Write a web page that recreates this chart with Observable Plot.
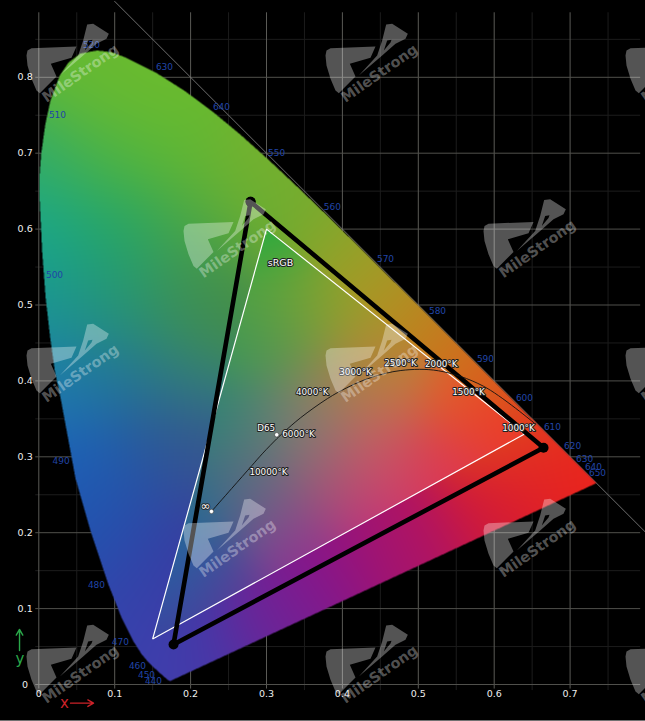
<!DOCTYPE html>
<html>
<head>
<meta charset="utf-8">
<style>html,body{margin:0;padding:0;background:#000;overflow:hidden}svg{display:block}</style>
<script src="https://cdn.jsdelivr.net/npm/d3@7"></script>
<script src="https://cdn.jsdelivr.net/npm/@observablehq/plot@0.6"></script>
</head>
<body>
<div id="chart"></div>
<script>
// Spectral locus outline (chromaticity x, y)
const locusX = [.1741,.1733,.1714,.1689,.1644,.1566,.1440,.1355,.1241,.1096,.0913,.0687,.0484,.0286,.0212,.0150,.0090,.0045,.0012,.0010,.0032,.0088,.0154,.0277,.0391,.0550,.0769,.0960,.1142,.1547,.1929,.2296,.2658,.3016,.3373,.3731,.4087,.4441,.4788,.5125,.5448,.5752,.6029,.6270,.6482,.6658,.6801,.6915,.7006,.7079,.7140,.7190,.7230,.7260,.7300,.7347];
const locusY = [.0050,.0048,.0051,.0069,.0109,.0177,.0297,.0399,.0578,.0868,.1327,.2007,.2714,.3781,.4127,.4572,.5100,.5700,.6377,.6700,.6996,.7391,.7694,.8024,.8195,.8314,.8353,.8330,.8262,.8059,.7816,.7543,.7243,.6923,.6589,.6245,.5896,.5547,.5202,.4866,.4544,.4242,.3965,.3725,.3514,.3340,.3197,.3083,.2993,.2920,.2859,.2809,.2770,.2740,.2700,.2653];

// Wavelength labels as printed
const waveText = ["520","630","640","510","550","560","570","580","590","600","610","620","630","640","650","500","490","480","470","460","450","440"];
const waveX = [.0694,.1656,.2407,.0246,.3132,.3869,.4568,.5253,.5885,.6399,.6768,.7032,.7190,.7308,.7361,.0207,.0294,.0760,.1076,.1300,.1419,.1511];
const waveY = [.8419,.8129,.7609,.7497,.6996,.6284,.5599,.4914,.4282,.3768,.3386,.3136,.2970,.2859,.2780,.5389,.2938,.1311,.0553,.0237,.0119,.0040];

// Gamuts
const srgbX = [.64,.30,.15,.64];
const srgbY = [.33,.60,.06,.33];
const panelX = [.279,.665,.1775,.279];
const panelY = [.636,.312,.0527,.636];

// Black body curve
const planckX = [.2275,.2541,.2807,.2952,.3135,.3221,.3451,.3805,.4053,.4369,.4770,.5267,.5857,.6528];
const planckY = [.2280,.2582,.2884,.3048,.3237,.3318,.3516,.3768,.3907,.4041,.4137,.4133,.3931,.3444];
const whiteX = [.2275,.3135];
const whiteY = [.2280,.3290];
const curveText = ["∞","D65","10000°K","6000°K","4000°K","3000°K","2500°K","2000°K","1500°K","1000°K","sRGB"];
const curveLabelX = [.2197,.2996,.3026,.3422,.3602,.4173,.4766,.5302,.5662,.6320,.3184];
const curveLabelY = [.2350,.3373,.2800,.3301,.3847,.4111,.4229,.4216,.3850,.3377,.5560];
const curveLabelSize = [12,8.8,8.8,8.8,8.8,8.8,8.8,8.8,8.8,8.8,9.5];

// Ticks
const xTicks = [0,.1,.2,.3,.4,.5,.6,.7];
const yTicks = [0,.1,.2,.3,.4,.5,.6,.7,.8];
const xMinor = [.05,.15,.25,.35,.45,.55,.65,.75];
const yMinor = [.05,.15,.25,.35,.45,.55,.65,.75,.85];

// Colours read outside the white triangle: x, y, r, g, b
const outerColour = [
  [.05,.80,100,185,50],[.10,.80,107,187,48],[.16,.79,108,187,45],
  [.01,.70,50,172,105],[.10,.70,80,180,65],[.20,.70,98,185,50],[.29,.68,125,178,45],
  [.003,.60,25,168,140],[.10,.60,35,165,105],[.20,.60,70,165,75],[.30,.63,100,175,50],[.36,.61,125,170,45],
  [.41,.56,155,160,40],[.45,.50,172,150,38],[.50,.46,190,130,30],[.55,.42,210,110,30],[.60,.37,222,90,30],[.65,.33,228,60,30],
  [.015,.50,25,150,150],[.10,.50,40,150,115],[.20,.50,55,145,95],[.25,.50,75,140,62],
  [.025,.40,30,125,175],[.10,.40,35,115,150],[.20,.40,50,125,125],
  [.05,.30,28,100,190],[.081,.26,30,90,175],[.15,.30,40,85,155],[.20,.30,60,85,140],
  [.07,.20,35,85,180],[.10,.20,35,80,170],[.17,.20,60,55,160],
  [.105,.10,50,70,175],[.15,.13,60,60,165],
  [.15,.02,60,65,175],[.21,.03,72,55,168],[.30,.08,98,42,155],[.35,.10,122,30,148],[.38,.14,140,18,135],
  [.45,.15,160,20,115],[.50,.18,178,20,98],[.60,.22,208,25,58],[.65,.27,225,30,40],[.72,.27,238,35,25]
];
// Colours read inside the white triangle
const innerColour = [
  [.30,.59,45,170,62],[.30,.50,85,165,62],[.35,.50,120,165,50],[.40,.50,155,160,40],[.45,.45,178,145,40],
  [.27,.45,55,150,90],[.32,.45,95,150,80],[.38,.40,150,130,90],[.45,.40,190,120,70],[.55,.38,225,100,40],[.60,.35,235,70,35],
  [.24,.35,40,130,120],[.30,.35,95,130,115],[.36,.33,145,120,115],[.45,.33,192,102,95],[.55,.30,222,70,70],[.62,.32,238,50,40],
  [.19,.20,30,108,150],[.22,.25,50,110,135],[.28,.28,95,110,125],[.30,.22,120,90,140],[.38,.26,160,85,120],[.45,.27,200,85,108],
  [.50,.27,215,60,95],[.45,.21,190,40,128],[.55,.26,225,40,85],[.35,.17,145,50,145],[.25,.12,100,55,150],[.17,.08,60,65,160],[.20,.14,65,70,160],[.175,.15,25,110,165]
];

// Watermark
const markOriginX = [21,320,620,178,478,21,320,620,178,478,21,320,620];
const markOriginY = [0,0,0,175.5,175.5,300,300,300,475,475,601,601,601];
const blockX = [15,18,30,165,150,88,105,55,45,30,18];
const blockY = [165,150,143,138,172,190,228,278,270,235,195];
const swooshX = [115,170,185,197,215,262,255,225,210,213,200,190,210,225,185];
const swooshY = [225,165,120,72,70,100,115,130,126,118,120,150,126,130,165];
const markName = "MileStrong";

const pxPerUnit = 759;
const xDomain = [-38.3 / pxPerUnit, (645 - 38.3) / pxPerUnit];
const yDomain = [-37 / pxPerUnit, 684 / pxPerUnit];

const locus = locusX.map((x, i) => [x, locusY[i]]);
const srgb = srgbX.slice(0, 3).map((x, i) => [x, srgbY[i]]);
const inside = (x, y) => d3.polygonContains(locus, [x, y]);
const step = 1 / pxPerUnit / 4;
const coverage = (x, y) => {
  if (x < -.002 || y < 0 || x > .74 || y > .84) return 0;
  return (inside(x - step, y - step) + inside(x + step, y - step) + inside(x - step, y + step) + inside(x + step, y + step)) / 4;
};
const shade = (x, y) => {
  if (x < -.003 || y < -.002 || x > .74 || y > .84) return "#000";
  const table = d3.polygonContains(srgb, [x, y]) ? innerColour : outerColour;
  const sigma = table === innerColour ? .045 : .055;
  let w = 1e-12, r = 0, g = 0, b = 0;
  for (const row of table) {
    const d = (x - row[0]) ** 2 + (y - row[1]) ** 2;
    const k = Math.exp(-d / (2 * sigma * sigma));
    w += k; r += k * row[2]; g += k * row[3]; b += k * row[4];
  }
  return `rgb(${r / w | 0},${g / w | 0},${b / w | 0})`;
};

const rows = (xs, ys) => xs.map((x, i) => ({x, y: ys[i]}));
const markShape = (xs, ys) => markOriginX.flatMap((ox, m) => xs.map((x, i) => ({
  m,
  x: (ox + x / 3 - 38.3) / pxPerUnit,
  y: (684 - markOriginY[m] - ys[i] / 3) / pxPerUnit
})));
const markText = markOriginX.map((ox, m) => ({
  x: (ox + 59 - 38.3) / pxPerUnit,
  y: (684 - markOriginY[m] - 73) / pxPerUnit
}));
const font = "DejaVu Sans";

const chart = Plot.plot({
  width: 645, height: 721,
  margin: 0,
  style: {background: "#000", overflow: "hidden"},
  x: {domain: xDomain, axis: null},
  y: {domain: yDomain, axis: null},
  color: {type: "identity"},
  marks: [
    Plot.ruleX(xMinor, {y1: -.008, y2: .885, stroke: "#1c1c1c", strokeWidth: 1}),
    Plot.ruleY(yMinor, {x1: -.004, x2: .793, stroke: "#1c1c1c", strokeWidth: 1}),
    Plot.ruleX(xTicks, {y1: -.006, y2: .885, stroke: "#5a5a56", strokeWidth: 1}),
    Plot.ruleY(yTicks, {x1: -.004, x2: .793, stroke: "#50504c", strokeWidth: 1}),
    Plot.ruleY([-.0475], {stroke: "#777", strokeWidth: 1}),
    Plot.line([{x: .1, y: .9}, {x: .8, y: .2}], {x: "x", y: "y", stroke: "#8a8a8a", strokeWidth: .8}),
    Plot.raster({
      x1: xDomain[0], x2: xDomain[1], y1: yDomain[0], y2: yDomain[1],
      width: 645, height: 721, pixelSize: 1, imageRendering: "auto",
      fill: shade, fillOpacity: coverage
    }),
    Plot.line(rows(srgbX, srgbY), {x: "x", y: "y", stroke: "#fff", strokeWidth: 1.2, strokeLinejoin: "miter"}),
    Plot.line(rows(panelX, panelY), {x: "x", y: "y", stroke: "#000", strokeWidth: 4.6}),
    Plot.dot(rows(panelX, panelY), {x: "x", y: "y", r: 5, fill: "#000"}),
    Plot.line(rows(planckX, planckY), {x: "x", y: "y", stroke: "#111", strokeWidth: .9, curve: "catmull-rom"}),
    Plot.dot(rows(whiteX, whiteY), {x: "x", y: "y", r: 2.2, fill: "#fff", stroke: "#222", strokeWidth: .5}),
    Plot.text(curveText, {
      x: (d, i) => curveLabelX[i], y: (d, i) => curveLabelY[i], text: d => d,
      fontSize: (d, i) => curveLabelSize[i],
      fill: "#fff", stroke: "#222", strokeWidth: 2, fontFamily: font
    }),
    Plot.text(waveText, {
      x: (d, i) => waveX[i], y: (d, i) => waveY[i], text: d => d,
      fill: "#2045a8", fontSize: 9, fontFamily: font
    }),
    Plot.text(xTicks, {x: d => d, y: -.0118, text: d => String(d), fill: "#eee", fontSize: 9.5, fontFamily: font}),
    Plot.text(yTicks, {x: -.018, y: d => d, text: d => String(d), fill: "#eee", fontSize: 9.5, fontFamily: font}),
    Plot.arrow([0], {x1: -.0254, y1: .0448, x2: -.0254, y2: .0725, stroke: "#2aa84a", strokeWidth: 1.4, headLength: 7, bend: 0}),
    Plot.text(["y"], {x: -.0247, y: .0333, text: d => d, fill: "#2aa84a", fontSize: 15, fontFamily: font}),
    Plot.arrow([0], {x1: .0418, y1: -.0246, x2: .0721, y2: -.0246, stroke: "#cc2229", strokeWidth: 1.4, headLength: 7, bend: 0}),
    Plot.text(["x"], {x: .0339, y: -.0246, text: d => d, fill: "#cc2229", fontSize: 15, fontFamily: font}),
    Plot.line(markShape(blockX, blockY), {x: "x", y: "y", z: "m", fill: "#fff", fillOpacity: .33, stroke: "none"}),
    Plot.line(markShape(swooshX, swooshY), {x: "x", y: "y", z: "m", fill: "#fff", fillOpacity: .33, stroke: "none"}),
    Plot.text(markText, {
      x: "x", y: "y", text: () => markName, rotate: -35,
      fill: "#fff", fillOpacity: .33, fontSize: 14.5, fontWeight: "bold", fontFamily: font
    })
  ]
});
document.getElementById("chart").appendChild(chart);
</script>
</body>
</html>
